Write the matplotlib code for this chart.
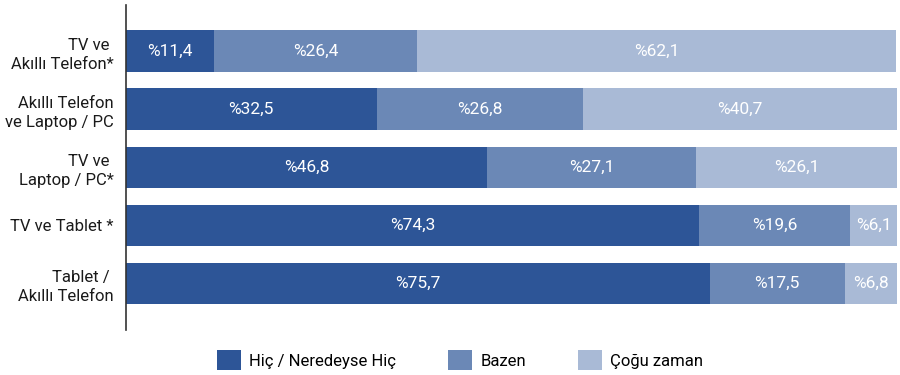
import matplotlib
matplotlib.use("Agg")
import matplotlib.pyplot as plt
import numpy as np

plt.rcParams['font.family'] = ['Roboto', 'DejaVu Sans']

# Device pairs and the share of each answer (%)
categories = ["TV ve \nAkıllı Telefon*", "Akıllı Telefon\nve Laptop / PC",
              "TV ve \nLaptop / PC*", "TV ve Tablet *", "Tablet / \nAkıllı Telefon"]
hic = [11.4, 32.5, 46.8, 74.3, 75.7]
bazen = [26.4, 26.8, 27.1, 19.6, 17.5]
cogu = [62.1, 40.7, 26.1, 6.1, 6.8]

series_names = ["Hiç / Neredeyse Hiç", "Bazen", "Çoğu zaman"]
colors = ["#2d5597", "#6b88b6", "#a9bad6"]

fig = plt.figure(figsize=(9, 3.75), dpi=100)
ax = fig.add_axes([0.14, 0.12, 0.8567, 0.867])

y = np.arange(len(categories))
left = np.zeros(len(categories))
for name, vals, col in zip(series_names, [hic, bazen, cogu], colors):
    vals = np.array(vals)
    ax.barh(y, vals, left=left, height=0.72, color=col, label=name)
    for yi, l, v in zip(y, left, vals):
        txt = f"%{v:.1f}".replace(".", ",")
        ax.text(l + v / 2, yi, txt, ha='center', va='center',
                color='white', fontsize=12.5)
    left = left + vals

ax.set_xlim(0, 100)
ax.set_ylim(4.8, -0.8)
ax.set_yticks(y)
ax.set_yticklabels(categories, fontsize=12, color='#1a1a1a',
                   multialignment='right', linespacing=1.35)
ax.set_xticks([])
ax.tick_params(axis='y', length=0, pad=9)
for s in ['top', 'right', 'bottom']:
    ax.spines[s].set_visible(False)
ax.spines['left'].set_color('#333333')
ax.spines['left'].set_linewidth(1.2)

fig.legend(loc='center', bbox_to_anchor=(0.511, 0.04), ncol=3, frameon=False,
           fontsize=12, handlelength=1.45, handleheight=1.45, handletextpad=0.5,
           columnspacing=3.1)

fig.savefig("out.png", dpi=100)
